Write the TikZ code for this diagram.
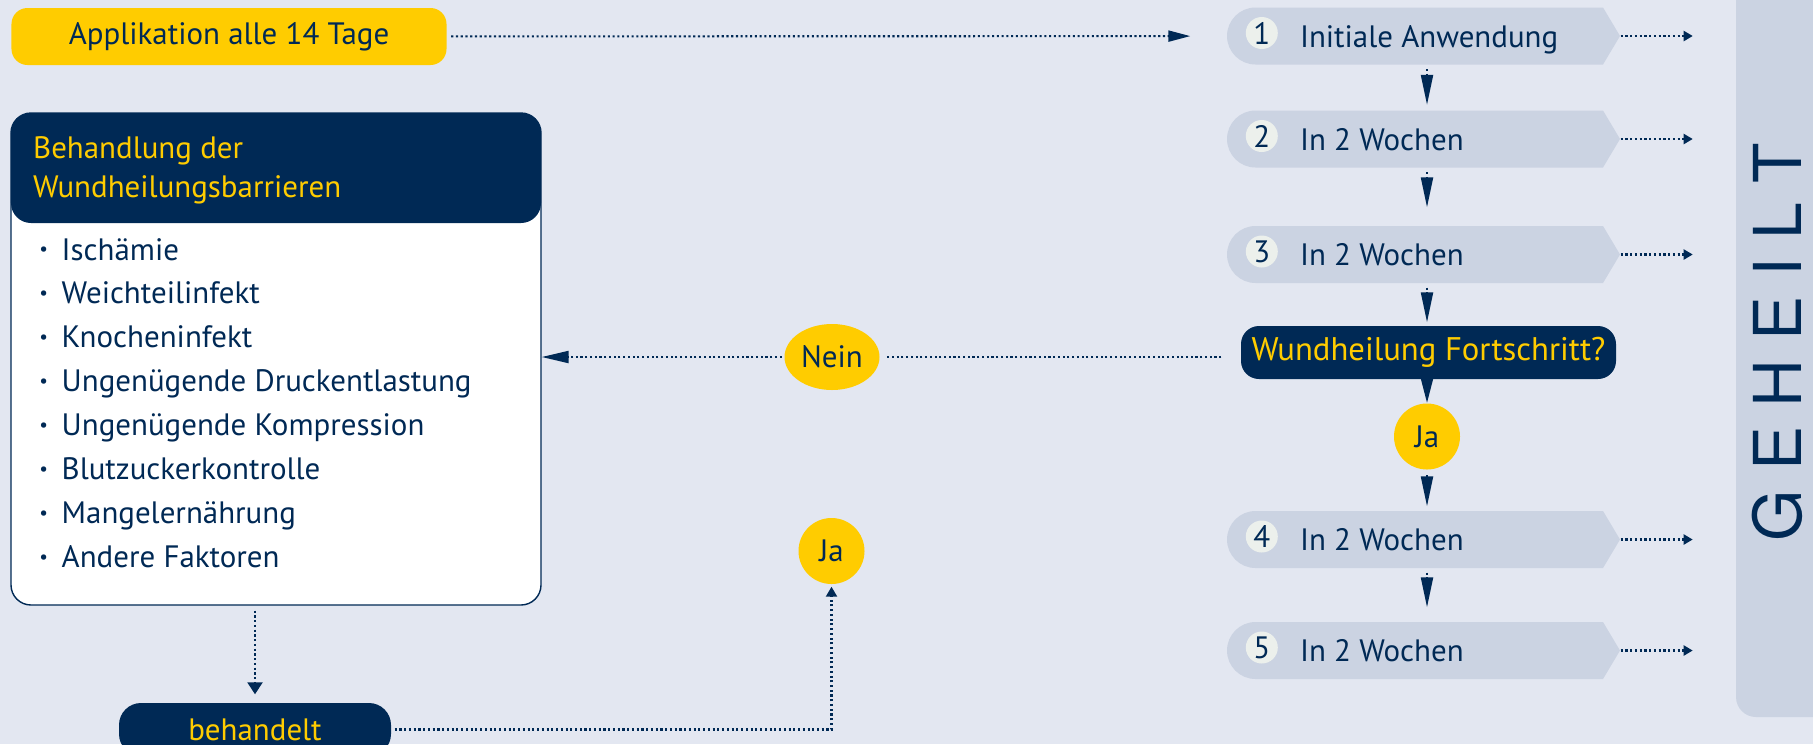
\documentclass[tikz,border=0pt]{standalone}
\usepackage{fontspec}
\setmainfont{PT Sans}
\newfontfamily\panelfont{TeX Gyre Heros}
\usepackage{tikz}
\usetikzlibrary{arrows.meta,positioning,calc,shapes.geometric}
\usepackage{xcolor}
\definecolor{pagebg}{RGB}{227,231,241}
\definecolor{panelgray}{RGB}{203,211,226}
\definecolor{navyblue}{RGB}{0,41,85}
\definecolor{signalgold}{RGB}{255,204,0}
\definecolor{dotwhite}{RGB}{236,240,236}
\newcommand{\lsp}{\kern5.5pt}
\newcommand{\smallbullet}{\raisebox{0.13em}{\scalebox{0.62}{\textbullet}}}

\tikzset{
  basefont/.style={font=\fontsize{8.8pt}{10.5pt}\selectfont},
  dotline/.style={navyblue, line width=0.6pt, dash pattern=on 0.6pt off 0.75pt},
  longtip/.style={-{Triangle[length=3mm,width=1.2mm]}},
  smalltip/.style={-{Triangle[length=0.9mm,width=1mm]}},
  pill/.style={basefont, rounded corners=0.16cm, inner sep=0pt, text=navyblue},
  stepbox/.style={minimum width=3.93cm, minimum height=0.57cm, inner sep=0pt,
    path picture={
      \fill[panelgray] ($(path picture bounding box.north east)+(-0.17,0)$)
        -- (path picture bounding box.east)
        -- ($(path picture bounding box.south east)+(-0.17,0)$)
        -- ($(path picture bounding box.south west)+(0.285,0)$)
        arc[start angle=-90, end angle=-270, radius=0.285cm] -- cycle;}},
  numdot/.style={circle, fill=dotwhite, minimum size=0.32cm, inner sep=0pt, basefont, text=navyblue},
  steptext/.style={basefont, text=navyblue, inner sep=0pt, anchor=base west},
  answer/.style={fill=signalgold, basefont, text=navyblue, inner sep=0pt},
  bulletline/.style={basefont, text=navyblue, inner sep=0pt, anchor=base west},
  darkpill/.style={fill=navyblue, text=signalgold, inner sep=0pt},
}

\begin{document}
\begin{tikzpicture}
  \fill[pagebg] (0,0) rectangle (18.13,-7.44);
  \useasboundingbox (0,0) rectangle (18.13,-7.44);

  % healed panel
  \fill[panelgray, rounded corners=0.2cm] (17.36,-7.17) rectangle (18.6,0.5);
  \node[rotate=90, text=navyblue, inner sep=0pt,
        font=\panelfont\fontsize{18.8pt}{20pt}\selectfont] (healed) at (17.77,-3.42)
        {G\lsp E\lsp H\lsp E\lsp I\lsp L\lsp T};

  % interval
  \node[pill, fill=signalgold, minimum width=4.35cm, minimum height=0.57cm] (interval) at (2.29,-0.365) {Applikation alle 14 Tage};

  % the five applications
  \foreach \i/\y/\txt in {1/-0.36/Initiale Anwendung, 2/-1.39/In 2 Wochen, 3/-2.545/In 2 Wochen,
                          4/-5.395/In 2 Wochen, 5/-6.505/In 2 Wochen} {
    \node[stepbox] (s\i) at (14.235,\y) {};
    \node[numdot] (n\i) at ($(s\i.west)+(0.355,0.03)$) {\i};
    \node[steptext] (t\i) at ($(s\i.west)+(0.73,-0.11)$) {\txt};
    \coordinate (h\i) at ($(s\i.east)+(0.72,0)$);
    \draw[dotline, smalltip] (s\i.east) -- (h\i);
  }

  % decision and answers
  \node[darkpill, rounded corners=0.18cm, minimum width=3.75cm, minimum height=0.53cm,
        font=\fontsize{9.3pt}{11pt}\selectfont] (progress) at (14.285,-3.525) {Wundheilung Fortschritt?};
  \node[answer, circle, minimum size=0.66cm] (yes1) at (14.27,-4.365) {Ja};
  \node[answer, ellipse, minimum width=0.95cm, minimum height=0.66cm] (no) at (8.32,-3.57) {Nein};
  \node[answer, circle, minimum size=0.66cm] (yes2) at (8.315,-5.51) {Ja};

  % barriers box
  \node[draw=navyblue, line width=0.4pt, fill=white, rounded corners=0.2cm,
        minimum width=5.30cm, minimum height=4.92cm, inner sep=0pt,
        path picture={\fill[navyblue] (path picture bounding box.north west)
          rectangle ([yshift=-1.10cm]path picture bounding box.north east);}] (barriers) at (2.76,-3.59) {};
  \node[anchor=north west, align=left, text=signalgold, inner sep=0pt,
        font=\fontsize{8.8pt}{11.1pt}\selectfont] (bartitle) at (0.325,-1.36) {Behandlung der\\Wundheilungsbarrieren};
  \foreach \t [count=\k] in {Ischämie, Weichteilinfekt, Knocheninfekt, Ungenügende Druckentlastung,
                             Ungenügende Kompression, Blutzuckerkontrolle, Mangelernährung, Andere Faktoren}
    \node[bulletline] (f\k) at (0.34,{-2.60-0.439*(\k-1)}) {\makebox[0.18cm][c]{\smallbullet}\hspace{0.09cm}\t};

  \node[darkpill, rounded corners=0.22cm, minimum width=2.72cm, minimum height=0.53cm, basefont] (treated) at (2.55,-7.295) {behandelt};

  % connectors
  \draw[dotline, -{Triangle[length=2.2mm,width=1.1mm]}, shorten <=0.04cm, shorten >=0.36cm] (interval) -- (s1);
  \draw[dotline, longtip, shorten <=0.04cm, shorten >=0.05cm] (s1.south -| yes1) -- (s2.north -| yes1);
  \draw[dotline, longtip, shorten <=0.04cm, shorten >=0.18cm] (s2.south -| yes1) -- (s3.north -| yes1);
  \draw[dotline, longtip, shorten <=0.04cm, shorten >=0.03cm] (s3.south -| yes1) -- (progress.north -| yes1);
  \draw[navyblue, -{Triangle[length=2.4mm,width=1.2mm]}] (progress.south -| yes1) -- (yes1.north);
  \draw[dotline, longtip, shorten <=0.05cm, shorten >=0.04cm] (yes1.south) -- (s4.north -| yes1);
  \draw[dotline, longtip, shorten <=0.04cm, shorten >=0.14cm] (s4.south -| yes1) -- (s5.north -| yes1);

  \draw[dotline, shorten <=0.19cm, shorten >=0.05cm] (progress.west |- no) -- (no.east);
  \draw[dotline, -{Triangle[length=2.7mm,width=1.2mm]}, shorten <=0.02cm] (no.west) -- (no.west -| barriers.east);

  \draw[dotline, -{Triangle[length=1.2mm,width=1.5mm]}, shorten <=0.05cm, shorten >=0.08cm] (barriers.south -| treated) -- (treated.north);
  \draw[dotline, -{Triangle[length=1mm,width=1.1mm]}, shorten <=0.03cm, shorten >=0.02cm] (treated.east) -| (yes2.south);
\end{tikzpicture}
\end{document}
